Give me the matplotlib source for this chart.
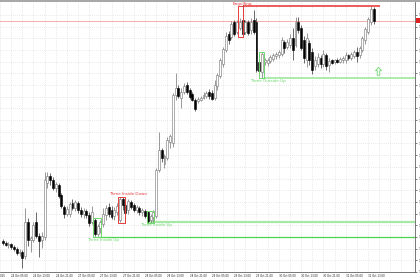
import matplotlib
matplotlib.use("Agg")
import matplotlib.pyplot as plt
from matplotlib.patches import Rectangle
from matplotlib.path import Path

# H1 candles, 24 Oct 02:00 .. 31 Oct 15:00
opens = [1.1531, 1.1529, 1.1527, 1.1528, 1.1525, 1.1523, 1.1519, 1.1520, 1.1516, 1.1550,
         1.1532, 1.1532, 1.1550, 1.1536, 1.1532, 1.1535, 1.1589, 1.1596, 1.1592, 1.1584,
         1.1587, 1.1577, 1.1565, 1.1558, 1.1558, 1.1569, 1.1564, 1.1569, 1.1562, 1.1558,
         1.1561, 1.1557, 1.1550, 1.1552, 1.1538, 1.1544, 1.1548, 1.1557, 1.1565, 1.1562,
         1.1556, 1.1560, 1.1552, 1.1573, 1.1567, 1.1562, 1.1570, 1.1567, 1.1562, 1.1564,
         1.1560, 1.1561, 1.1560, 1.1552, 1.1555, 1.1556, 1.1602, 1.1622, 1.1608, 1.1614,
         1.1630, 1.1629, 1.1677, 1.1684, 1.1674, 1.1680, 1.1687, 1.1682, 1.1678, 1.1672,
         1.1671, 1.1672, 1.1674, 1.1676, 1.1680, 1.1679, 1.1674, 1.1686, 1.1696, 1.1708,
         1.1722, 1.1738, 1.1735, 1.1750, 1.1740, 1.1744, 1.1752, 1.1740, 1.1750, 1.1742,
         1.1752, 1.1750, 1.1710, 1.1700, 1.1710, 1.1709, 1.1711, 1.1713, 1.1716, 1.1717,
         1.1718, 1.1730, 1.1725, 1.1727, 1.1734, 1.1727, 1.1750, 1.1744, 1.1732, 1.1712,
         1.1729, 1.1720, 1.1706, 1.1708, 1.1714, 1.1708, 1.1717, 1.1707, 1.1712, 1.1710,
         1.1712, 1.1710, 1.1712, 1.1712, 1.1717, 1.1714, 1.1716, 1.1720, 1.1717, 1.1722,
         1.1732, 1.1740, 1.1750, 1.1763]
highs = [1.1533, 1.1531, 1.1530, 1.1529, 1.1527, 1.1525, 1.1523, 1.1522, 1.1564, 1.1554,
         1.1536, 1.1550, 1.1560, 1.1539, 1.1540, 1.1600, 1.1600, 1.1599, 1.1595, 1.1590,
         1.1589, 1.1579, 1.1567, 1.1566, 1.1570, 1.1573, 1.1572, 1.1571, 1.1565, 1.1564,
         1.1563, 1.1560, 1.1566, 1.1554, 1.1548, 1.1552, 1.1564, 1.1567, 1.1569, 1.1566,
         1.1565, 1.1569, 1.1575, 1.1575, 1.1571, 1.1573, 1.1572, 1.1569, 1.1567, 1.1566,
         1.1564, 1.1563, 1.1561, 1.1558, 1.1562, 1.1604, 1.1640, 1.1624, 1.1618, 1.1635,
         1.1638, 1.1679, 1.1699, 1.1687, 1.1684, 1.1689, 1.1690, 1.1684, 1.1680, 1.1674,
         1.1675, 1.1676, 1.1680, 1.1681, 1.1683, 1.1682, 1.1692, 1.1699, 1.1714, 1.1725,
         1.1740, 1.1741, 1.1751, 1.1752, 1.1752, 1.1754, 1.1767, 1.1752, 1.1752, 1.1754,
         1.1762, 1.1754, 1.1714, 1.1720, 1.1714, 1.1714, 1.1717, 1.1719, 1.1720, 1.1722,
         1.1735, 1.1732, 1.1733, 1.1738, 1.1744, 1.1755, 1.1755, 1.1747, 1.1736, 1.1739,
         1.1732, 1.1724, 1.1716, 1.1719, 1.1717, 1.1722, 1.1719, 1.1714, 1.1713, 1.1713,
         1.1714, 1.1715, 1.1716, 1.1720, 1.1718, 1.1720, 1.1722, 1.1725, 1.1726, 1.1736,
         1.1745, 1.1755, 1.1766, 1.1765]
lows = [1.1527, 1.1526, 1.1524, 1.1523, 1.1521, 1.1517, 1.1516, 1.1504, 1.1513, 1.1526,
        1.1520, 1.1530, 1.1534, 1.1515, 1.1524, 1.1532, 1.1584, 1.1587, 1.1582, 1.1580,
        1.1574, 1.1564, 1.1554, 1.1556, 1.1555, 1.1562, 1.1561, 1.1559, 1.1555, 1.1554,
        1.1554, 1.1546, 1.1548, 1.1536, 1.1536, 1.1539, 1.1545, 1.1552, 1.1555, 1.1553,
        1.1552, 1.1557, 1.1550, 1.1562, 1.1549, 1.1558, 1.1563, 1.1560, 1.1559, 1.1557,
        1.1556, 1.1554, 1.1549, 1.1549, 1.1550, 1.1554, 1.1600, 1.1610, 1.1604, 1.1612,
        1.1624, 1.1625, 1.1672, 1.1674, 1.1664, 1.1678, 1.1678, 1.1673, 1.1671, 1.1661,
        1.1669, 1.1671, 1.1673, 1.1674, 1.1673, 1.1672, 1.1672, 1.1682, 1.1694, 1.1705,
        1.1720, 1.1728, 1.1733, 1.1736, 1.1738, 1.1742, 1.1735, 1.1738, 1.1737, 1.1738,
        1.1738, 1.1700, 1.1699, 1.1694, 1.1707, 1.1706, 1.1709, 1.1711, 1.1713, 1.1714,
        1.1716, 1.1719, 1.1723, 1.1724, 1.1712, 1.1725, 1.1739, 1.1722, 1.1709, 1.1705,
        1.1707, 1.1698, 1.1702, 1.1705, 1.1704, 1.1705, 1.1702, 1.1700, 1.1708, 1.1708,
        1.1709, 1.1709, 1.1709, 1.1709, 1.1712, 1.1712, 1.1714, 1.1710, 1.1714, 1.1720,
        1.1728, 1.1738, 1.1747, 1.1748]
closes = [1.1529, 1.1527, 1.1528, 1.1525, 1.1523, 1.1519, 1.1520, 1.1514, 1.1550, 1.1532,
          1.1534, 1.1547, 1.1536, 1.1531, 1.1536, 1.1592, 1.1596, 1.1592, 1.1584, 1.1588,
          1.1576, 1.1566, 1.1558, 1.1563, 1.1568, 1.1564, 1.1570, 1.1562, 1.1558, 1.1561,
          1.1557, 1.1549, 1.1560, 1.1538, 1.1546, 1.1550, 1.1558, 1.1564, 1.1558, 1.1555,
          1.1562, 1.1566, 1.1573, 1.1567, 1.1559, 1.1571, 1.1565, 1.1562, 1.1565, 1.1560,
          1.1562, 1.1556, 1.1551, 1.1556, 1.1560, 1.1602, 1.1622, 1.1614, 1.1616, 1.1632,
          1.1636, 1.1677, 1.1684, 1.1676, 1.1680, 1.1686, 1.1680, 1.1675, 1.1672, 1.1663,
          1.1673, 1.1674, 1.1677, 1.1679, 1.1676, 1.1673, 1.1687, 1.1697, 1.1712, 1.1723,
          1.1736, 1.1732, 1.1748, 1.1738, 1.1750, 1.1750, 1.1738, 1.1750, 1.1739, 1.1750,
          1.1740, 1.1702, 1.1701, 1.1718, 1.1712, 1.1712, 1.1715, 1.1717, 1.1718, 1.1720,
          1.1732, 1.1724, 1.1730, 1.1734, 1.1722, 1.1750, 1.1742, 1.1724, 1.1714, 1.1734,
          1.1712, 1.1702, 1.1712, 1.1715, 1.1708, 1.1718, 1.1706, 1.1711, 1.1709, 1.1712,
          1.1710, 1.1713, 1.1714, 1.1717, 1.1714, 1.1718, 1.1720, 1.1716, 1.1724, 1.1734,
          1.1743, 1.1753, 1.1763, 1.1751]

date_labels = ["23 Oct 2025", "24 Oct 05:00", "24 Oct 13:00", "24 Oct 21:00",
               "27 Oct 05:00", "27 Oct 13:00", "27 Oct 21:00", "28 Oct 05:00",
               "28 Oct 13:00", "28 Oct 21:00", "29 Oct 05:00", "29 Oct 13:00",
               "29 Oct 21:00", "30 Oct 05:00", "30 Oct 13:00", "30 Oct 21:00",
               "31 Oct 05:00", "31 Oct 13:00"]
date_bars = [-5, 3, 11, 19, 27, 35, 43, 51, 59, 67, 75, 83, 91, 99, 107, 115, 123, 131]

# candlestick patterns: name, colour, first bar, last bar, box low, box high
pat_names = ["Three Inside Up", "Three Inside Down", "Three Inside Up", "Engulfing", "Three Outside Up"]
pat_colors = ["#6fd86f", "#e83c3c", "#6fd86f", "#e83c3c", "#6fd86f"]
pat_start = [32.5, 41.4, 51.8, 84.3, 91.8]
pat_end = [35.4, 43.9, 54.3, 86.1, 93.6]
pat_low = [1.1535, 1.1549, 1.1549, 1.1735, 1.1694]
pat_high = [1.1554, 1.1575, 1.1561, 1.1766, 1.1720]
# where the pattern names are written
lab_x = [36.1, 45.0, 55.0, 86.1, 95.0]
lab_y = [1.1532, 1.1578, 1.1547, 1.1768, 1.1691]

# buy signal arrow
arrow_bar = 134.6
arrow_price = 1.1701

bid = closes[-1]

fig = plt.figure(figsize=(4.2, 2.8), dpi=100)
fig.patch.set_facecolor("white")
ax = fig.add_axes([0, 8 / 280, 415 / 420, 270 / 280])
ax.set_facecolor("white")

ax.set_xlim(-1 / 2.8, 414 / 2.8)
ax.set_ylim(1.1500, 1.1770)

# grid
ax.set_xticks(range(-1, 148, 4))
ax.set_yticks([1.1757 - 0.00117 * k for k in range(23)])
ax.grid(True, color="#d4d4d4", linestyle=(0, (1, 2)), linewidth=0.5)
ax.set_axisbelow(True)
ax.tick_params(axis="x", length=0, labelbottom=False)
ax.yaxis.tick_right()
ax.tick_params(axis="y", length=1.5, width=0.4, labelsize=2.2, pad=0.8, colors="#202020")
ax.yaxis.set_major_formatter(matplotlib.ticker.FormatStrFormatter("%.4f"))

for side in ["top", "left"]:
    ax.spines[side].set_visible(False)
for side in ["right", "bottom"]:
    ax.spines[side].set_color("#606060")
    ax.spines[side].set_linewidth(0.6)

# candles
w = 0.7
for i in range(len(opens)):
    o, h, l, c = opens[i], highs[i], lows[i], closes[i]
    if c >= o:
        ax.vlines(i, l, h, color="#707070", linewidth=0.5, zorder=3)
        ax.add_patch(Rectangle((i - w / 2, o), w, max(c - o, 0.00005), facecolor="white",
                               edgecolor="#707070", linewidth=0.4, zorder=4))
    else:
        ax.vlines(i, l, h, color="#303030", linewidth=0.5, zorder=3)
        ax.add_patch(Rectangle((i - w / 2, c), w, o - c, facecolor="black",
                               edgecolor="black", linewidth=0.4, zorder=4))

# bid line
ax.axhline(bid, color="#f2a0a0", linewidth=0.6, zorder=2)

# support / resistance lines from the patterns
xmax = 414 / 2.8
ax.hlines(pat_low[0], pat_start[0], xmax, color="#4cd64c", linewidth=0.9, zorder=2)
ax.hlines(pat_low[2] + 0.00005, pat_start[2], xmax, color="#a6e8a6", linewidth=1.6, zorder=2)
ax.hlines(pat_low[4], pat_end[4], xmax, color="#9ee89e", linewidth=1.2, zorder=2)
ax.hlines(pat_high[3], pat_end[3], 135.4, color="#e83030", linewidth=1.1, zorder=2)

# pattern boxes and names
for k in range(len(pat_names)):
    ax.add_patch(Rectangle((pat_start[k], pat_low[k]), pat_end[k] - pat_start[k],
                           pat_high[k] - pat_low[k], fill=False, edgecolor=pat_colors[k],
                           linewidth=0.7, zorder=5))
    ax.text(lab_x[k], lab_y[k], pat_names[k], color=pat_colors[k], fontsize=3.0,
            ha="center", va="center", zorder=6)

# hollow up arrow marker
arrow_shape = Path([(0, 1), (0.7, 0.2), (0.3, 0.2), (0.3, -0.9), (-0.3, -0.9),
                    (-0.3, 0.2), (-0.7, 0.2), (0, 1)])
ax.plot([arrow_bar], [arrow_price], marker=arrow_shape, markersize=6,
        markerfacecolor="white", markeredgecolor="#7ed87e", markeredgewidth=0.7,
        linestyle="none", zorder=6)

# date labels
for b, t in zip(date_bars, date_labels):
    ax.text(b, -0.006, t, transform=ax.get_xaxis_transform(), fontsize=1.9,
            ha="left", va="top", color="#202020", clip_on=False)

# bid marker on the price scale
ax.add_patch(Rectangle((1.002, bid - 0.00025), 0.02, 0.0005, transform=ax.get_yaxis_transform(),
                       facecolor="#e02020", edgecolor="none", clip_on=False, zorder=7))

# top border of the window
fig.add_artist(Rectangle((0, 278.5 / 280), 1, 1.5 / 280, transform=fig.transFigure,
                         facecolor="#a8a8a8", edgecolor="none"))

fig.savefig("out.png", dpi=100)
